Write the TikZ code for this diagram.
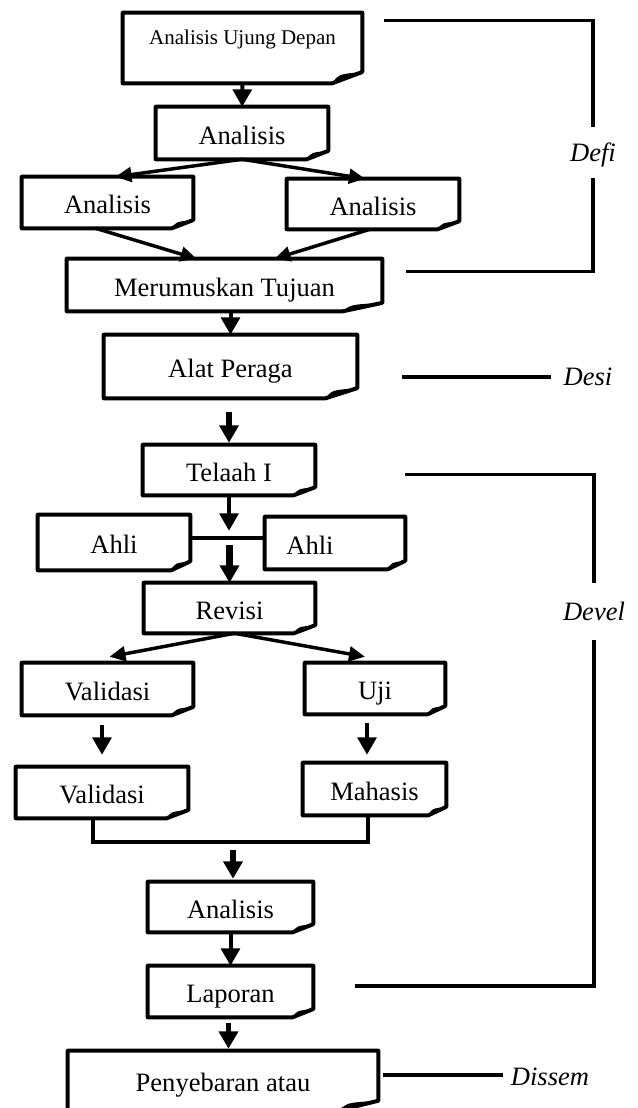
\documentclass[tikz,border=0pt]{standalone}
\usepackage{fontspec}
\setmainfont{Liberation Serif}
\usetikzlibrary{arrows.meta,calc}

\newcommand{\boxfont}{\fontsize{19.9}{24}\selectfont}
\newcommand{\topboxfont}{\fontsize{15.75}{19}\selectfont}

\tikzset{
  docbox/.style 2 args={inner sep=0pt, minimum width={#1*0.75pt}, minimum height={#2*0.75pt},
    font=\boxfont, text height=19pt, text depth=2pt},
  boxline/.style={line width=3pt, line join=round},
  link/.style={line width=2.6pt},
  arr/.style={line width=3pt, -{Triangle[length=13pt,width=14pt]}},
  slant/.style={line width=2.6pt, -{Triangle[length=12pt,width=11pt]}},
  phase/.style={font=\boxfont\itshape, inner sep=0pt, text height=15pt, text depth=2pt},
}

\begin{document}
\begin{tikzpicture}[x=0.75pt,y=0.75pt,yscale=-1,xscale=1]
\useasboundingbox (0,0) rectangle (637,1108);
\clip (0,0) rectangle (637,1108);

% Text Node
\node[docbox={239}{70}, font=\topboxfont, text height=23.25pt, text depth=29.25pt] (ujung) at (242.5,48) {Analisis Ujung Depan};
% Text Node
\node[docbox={172}{52}] (anaA) at (242,133) {Analisis};
% Text Node
\node[docbox={171}{51}] (anaL) at (107.5,202.5) {Analisis};
% Text Node
\node[docbox={172}{50}] (anaR) at (373,204) {Analisis};
% Text Node
\node[docbox={315}{52}] (tujuan) at (224.5,285) {Merumuskan Tujuan};
% Text Node
\node[docbox={253}{63}] (alat) at (230.5,366.5) {Alat Peraga};
% Text Node
\node[docbox={172}{50}] (telaah) at (229,470) {Telaah I};
% Text Node
\node[docbox={152}{55}] (ahliL) at (114,542.5) {Ahli};
% Text Node
\node[docbox={140}{52}] (ahliR) at (335,543) {Ahli\hspace*{37.5pt}};
% Text Node
\node[docbox={171}{50}] (revisi) at (229.5,608) {Revisi};
% Text Node
\node[docbox={171}{52}] (validA) at (107.5,689) {Validasi};
% Text Node
\node[docbox={140}{51}] (uji) at (375,688.5) {Uji};
% Text Node
\node[docbox={172}{51}] (validB) at (102,792.5) {Validasi};
% Text Node
\node[docbox={143}{52}] (mhs) at (374.5,789) {Mahasis};
% Text Node
\node[docbox={165}{50}] (anaB) at (230.5,907) {Analisis};
% Text Node
\node[docbox={165}{51}] (laporan) at (230.5,991.5) {Laporan};
% Text Node
\node[docbox={310}{59}] (sebar) at (223,1080.5) {Penyebaran atau};

% boxes with folded corner
\foreach \n in {ujung,anaA,anaL,anaR,tujuan,alat,telaah,ahliL,ahliR,revisi,validA,uji,validB,mhs,anaB,laporan,sebar}{
  \coordinate (fa) at ($(\n.south east)!0.125!(\n.south west)$);
  \coordinate (fb) at ($(\n.south east)!0.16!(\n.north east)$);
  \draw[boxline] (\n.south west) |- (\n.north east) -- (fb) -- (fa) -- cycle;
  \fill (fa) .. controls ($(fa)!.5!(fb)!.6!(fa |- fb)$) .. (fb) -- cycle;
}

%Straight Lines
\draw[arr] (ujung) -- (anaA);
\draw[slant] (anaA.south) -- ($(anaL.north)+(8,0)$);
\draw[slant] (anaA.south) -- ($(anaR.north)+(-8,0)$);
\draw[slant] ($(anaL.south)+(-12,0)$) -- ($(tujuan.north)+(-28,0)$);
\draw[slant] ($(anaR.south)+(-3,0)$) -- ($(tujuan.north)+(50,0)$);
\draw[arr] (tujuan.south -| alat.north) -- (alat.north);
\draw[arr, line width=4pt] ($(alat.south -| telaah.north)+(0,14)$) -- ($(telaah.north)+(0,-2)$);

%Straight Lines
\draw[link] ($(ahliL.east)+(0,-4.5)$) -- ($(ahliR.west)+(0,-5)$);
\coordinate (ahlimid) at ($(ahliL.east)!0.5!(ahliR.west)+(0,-5)$);
\draw[arr] (telaah.south) -- ($(telaah.south |- ahlimid)+(0,-7)$);
\draw[arr, line width=5pt] ($(revisi.north |- ahlimid)+(0,7)$) -- (revisi.north);
\draw[slant] ($(revisi.south)+(5,0)$) -- ($(validA.north)+(2,-6)$);
\draw[slant] ($(revisi.south)+(5,0)$) -- ($(uji.north)+(-10,-6)$);
\draw[arr] ($(validA.south -| validB.north)+(0,10)$) -- ($(validB.north)+(0,-12)$);
\draw[arr] ($(uji.south)+(-8,9)$) -- ($(mhs.north)+(-7.5,-8)$);

%Straight Lines
\coordinate (merge) at (233,842);
\draw[link] ($(validB.south)+(-9,0)$) |- (merge) -| ($(mhs.south)+(-6.5,0)$);
\draw[arr, line width=4pt] ($(merge)+(0,8)$) -- ($(anaB.north)+(2.5,-3)$);
\draw[arr] (anaB) -- (laporan);
\draw[arr, line width=4pt] ($(laporan.south)+(-2,6)$) -- ($(laporan.south |- sebar.north)+(-2,-2)$);

% Text Node
\node[phase, minimum height={51*0.75pt}] (defi) at (593,152.5) {Defi};
\draw[link] ($(ujung.north east)+(22,8)$) -| (defi.north);
\draw[link] (defi.south) |- ($(tujuan.north east)+(24,13)$);
% Text Node
\node[phase] (desi) at (588,377) {Desi};
\draw[link] ($(alat.east)+(45,10.5)$) -- ($(desi.west)+(-12,0)$);
% Text Node
\node[phase, minimum height={57*0.75pt}] (devel) at (594,611.5) {Devel};
\draw[link] ($(telaah.north east)+(90,30)$) -| (devel.north);
\draw[link] (devel.south) |- ($(laporan.east)+(42,-5.5)$);
% Text Node
\node[phase] (dissem) at (550,1077) {Dissem};
\draw[link] ($(sebar.east)+(5,-5.5)$) -- ($(dissem.west |- sebar.east)+(-8,-5.5)$);

\end{tikzpicture}
\end{document}
